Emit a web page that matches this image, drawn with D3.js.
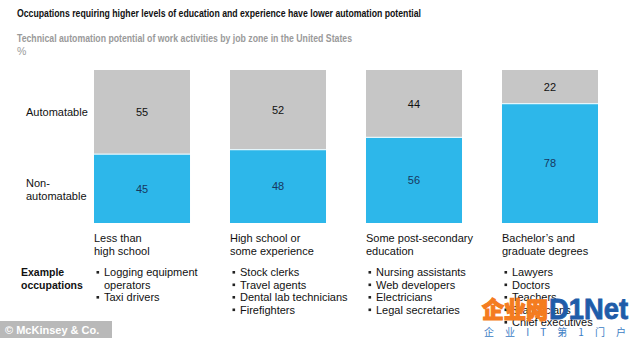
<!DOCTYPE html>
<html>
<head>
<meta charset="utf-8">
<script src="https://cdn.jsdelivr.net/npm/d3@7"></script>
<style>
  body { margin: 0; background: #fff; }
  svg { display: block; font-family: 'Liberation Sans', Arial, sans-serif; }
</style>
</head>
<body>
<script>
const categories = [
  ['Less than', 'high school'],
  ['High school or', 'some experience'],
  ['Some post-secondary', 'education'],
  ['Bachelor\u2019s and', 'graduate degrees']
]
const nonAutomatable = [45, 48, 56, 78]
const automatable = [55, 52, 44, 22]
const occupations = [
  ['Logging equipment operators', 'Taxi drivers'],
  ['Stock clerks', 'Travel agents', 'Dental lab technicians', 'Firefighters'],
  ['Nursing assistants', 'Web developers', 'Electricians', 'Legal secretaries'],
  ['Lawyers', 'Doctors', 'Teachers', 'Statisticians', 'Chief executives']
]

const width = 630
const height = 338
const grey = '#c6c6c6'
const blue = '#2db7ea'

const svg = d3.select('body').append('svg')
  .attr('width', width)
  .attr('height', height)

// titles
svg.append('text')
  .attr('x', 17).attr('y', 17)
  .attr('font-size', 11.5).attr('font-weight', 'bold').attr('fill', '#111')
  .attr('textLength', 404).attr('lengthAdjust', 'spacingAndGlyphs')
  .text('Occupations requiring higher levels of education and experience have lower automation potential')

svg.append('text')
  .attr('x', 17).attr('y', 42)
  .attr('font-size', 11).attr('font-weight', 'bold').attr('fill', '#9a9a9a')
  .attr('textLength', 335).attr('lengthAdjust', 'spacingAndGlyphs')
  .text('Technical automation potential of work activities by job zone in the United States')

svg.append('text')
  .attr('x', 17).attr('y', 55)
  .attr('font-size', 10.5).attr('fill', '#9a9a9a')
  .text('%')

const x = d3.scaleBand()
  .domain(d3.range(categories.length))
  .range([94, 598])
  .paddingInner(0.294)
  .paddingOuter(0)

const y = d3.scaleLinear().domain([0, 100]).range([223, 70])

const rows = d3.range(categories.length).map(i => ({
  i,
  non: nonAutomatable[i],
  auto: automatable[i]
}))

const bars = svg.append('g')

bars.selectAll('rect.auto')
  .data(rows)
  .join('rect')
  .attr('class', 'auto')
  .attr('x', d => x(d.i))
  .attr('width', x.bandwidth())
  .attr('y', d => y(d.non + d.auto))
  .attr('height', d => y(d.non) - y(d.non + d.auto))
  .attr('fill', grey)

bars.selectAll('rect.non')
  .data(rows)
  .join('rect')
  .attr('class', 'non')
  .attr('x', d => x(d.i))
  .attr('width', x.bandwidth())
  .attr('y', d => y(d.non))
  .attr('height', d => y(0) - y(d.non))
  .attr('fill', blue)

bars.selectAll('line.sep')
  .data(rows)
  .join('line')
  .attr('class', 'sep')
  .attr('x1', d => x(d.i))
  .attr('x2', d => x(d.i) + x.bandwidth())
  .attr('y1', d => y(d.non))
  .attr('y2', d => y(d.non))
  .attr('stroke', '#e4f6fc')
  .attr('stroke-width', 1.2)

bars.selectAll('text.auto')
  .data(rows)
  .join('text')
  .attr('class', 'auto')
  .attr('x', d => x(d.i) + x.bandwidth() / 2)
  .attr('y', d => (y(d.non) + y(d.non + d.auto)) / 2 + 4)
  .attr('text-anchor', 'middle')
  .attr('font-size', 11).attr('fill', '#111')
  .text(d => d.auto)

bars.selectAll('text.non')
  .data(rows)
  .join('text')
  .attr('class', 'non')
  .attr('x', d => x(d.i) + x.bandwidth() / 2)
  .attr('y', d => (y(0) + y(d.non)) / 2 + 4)
  .attr('text-anchor', 'middle')
  .attr('font-size', 11).attr('fill', '#17375e')
  .text(d => d.non)

// row labels
svg.append('text')
  .attr('x', 26).attr('y', y(100 - automatable[0] / 2) + 4)
  .attr('font-size', 11).attr('fill', '#111')
  .text('Automatable')

const nonLabel = svg.append('text')
  .attr('x', 26).attr('y', y(nonAutomatable[0] / 2) - 2)
  .attr('font-size', 11).attr('fill', '#111')
nonLabel.append('tspan').attr('x', 26).text('Non-')
nonLabel.append('tspan').attr('x', 26).attr('dy', 13).text('automatable')

// category labels
svg.append('g').selectAll('text')
  .data(categories)
  .join('text')
  .attr('x', (d, i) => x(i))
  .attr('y', 242)
  .attr('font-size', 11).attr('fill', '#111')
  .each(function (d, i) {
    d3.select(this).selectAll('tspan')
      .data(d)
      .join('tspan')
      .attr('x', x(i))
      .attr('dy', (t, j) => j ? 13 : 0)
      .text(t => t)
  })

// example occupations
const ex = svg.append('text')
  .attr('x', 21).attr('y', 276)
  .attr('font-size', 10.5).attr('font-weight', 'bold').attr('fill', '#111')
ex.append('tspan').attr('x', 21).text('Example')
ex.append('tspan').attr('x', 21).attr('dy', 12.5).text('occupations')

function wrap (str, maxW, fontSize) {
  const probe = svg.append('text').attr('font-size', fontSize)
  const words = str.split(' ')
  const lines = []
  let cur = ''
  words.forEach(w => {
    const test = cur ? cur + ' ' + w : w
    probe.text(test)
    if (probe.node().getComputedTextLength() > maxW && cur) {
      lines.push(cur)
      cur = w
    } else {
      cur = test
    }
  })
  lines.push(cur)
  probe.remove()
  return lines
}

const occ = svg.append('g')
occupations.forEach((list, i) => {
  let line = 0
  list.forEach(item => {
    const parts = wrap(item, 118, 11)
    parts.forEach((p, k) => {
      const yy = 276 + (line + k) * 12.5
      if (k === 0) {
        occ.append('rect')
          .attr('x', x(i) + 2.5).attr('y', yy - 5)
          .attr('width', 2.6).attr('height', 2.6)
          .attr('fill', '#222')
      }
      occ.append('text')
        .attr('x', x(i) + 10).attr('y', yy)
        .attr('font-size', 11).attr('fill', '#111')
        .text(p)
    })
    line += parts.length
  })
})

// source tag
svg.append('rect')
  .attr('x', 0).attr('y', 321).attr('width', 112).attr('height', 17)
  .attr('fill', '#b9b9b9')
svg.append('text')
  .attr('x', 5).attr('y', 333.5)
  .attr('font-size', 11).attr('font-weight', 'bold').attr('fill', '#fff')
  .text('\u00a9 McKinsey & Co.')

// site watermark
const wm = svg.append('g')
wm.append('text')
  .attr('x', 482).attr('y', 318)
  .attr('font-family', 'Noto Sans CJK SC').attr('font-weight', 900)
  .attr('font-size', 23).attr('fill', '#f47c20')
  .attr('stroke', '#f47c20').attr('stroke-width', 1.2)
  .attr('textLength', 66).attr('lengthAdjust', 'spacingAndGlyphs')
  .text('企业网')
wm.append('text')
  .attr('x', 549).attr('y', 319)
  .attr('font-family', 'Liberation Sans').attr('font-weight', 'bold')
  .attr('font-size', 29).attr('fill', '#1f5ca9')
  .attr('stroke', '#1f5ca9').attr('stroke-width', 0.8)
  .attr('textLength', 79).attr('lengthAdjust', 'spacingAndGlyphs')
  .text('D1Net')
wm.append('text')
  .attr('x', 484).attr('y', 336)
  .attr('font-family', 'Noto Sans CJK SC')
  .attr('font-size', 10).attr('fill', '#3b7cc4')
  .attr('textLength', 142).attr('lengthAdjust', 'spacing')
  .text('企业IT第1门户')
</script>
</body>
</html>
